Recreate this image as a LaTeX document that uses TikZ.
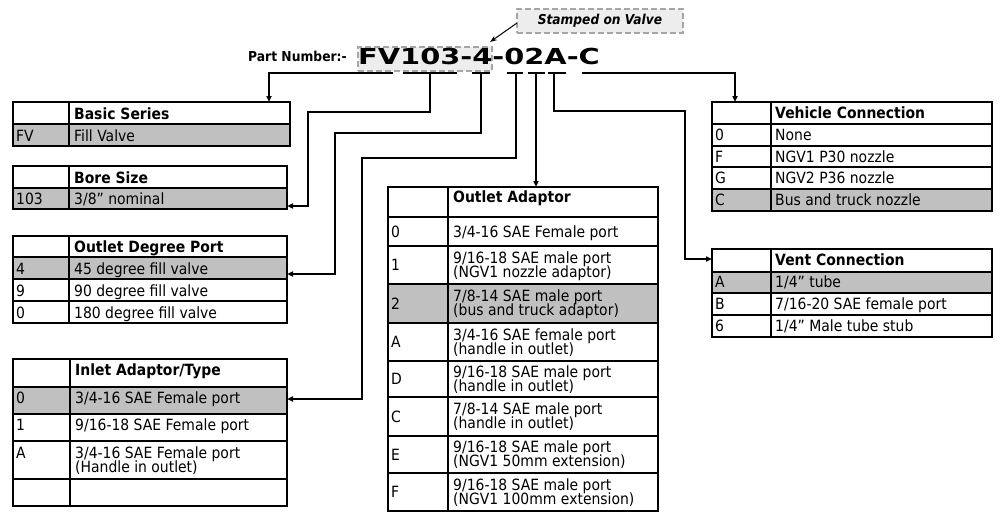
\documentclass[tikz,border=0pt]{standalone}
\usepackage{fontspec}
\setmainfont{DejaVu Sans}
\newfontfamily\tfont[FakeStretch=0.9]{DejaVu Sans}
\newfontfamily\pnfont[FakeStretch=1.31]{DejaVu Sans}
\usetikzlibrary{arrows.meta}
\definecolor{shadegray}{HTML}{C0C0C0}
\definecolor{stampfill}{HTML}{EDEDED}
\definecolor{dashgray}{HTML}{A6A6A6}
\newcommand\tgrid[6]{%
  \draw[tbl] (#1,#4) rectangle (#3,#5);
  \draw[tbl] (#2,#4) -- (#2,#5);
  \foreach \yy in {#6} {\draw[tbl] (#1,\yy) -- (#3,\yy);}
}
\begin{document}
\begin{tikzpicture}[
  x=1pt, y=-1pt,
  tbl/.style={line width=1.1pt, draw=black},
  cell/.style={anchor=base west, inner sep=0pt, font=\tfont\fontsize{15.5}{15}\selectfont},
  hcell/.style={anchor=base west, inner sep=0pt, font=\tfont\bfseries\fontsize{15.5}{15}\selectfont},
  conn/.style={line width=2pt, draw=black},
  arr/.style={conn, -{Triangle[length=6pt,width=5pt]}},
  dashbox/.style={fill=stampfill, draw=dashgray, line width=1.5pt, dash pattern=on 6pt off 3pt},
]
\useasboundingbox (0,0) rectangle (1007,527);

% ---------- stamped box and part number ----------
\node[dashbox, minimum width=166pt, minimum height=24pt, inner sep=0pt] (stamp) at (600,21) {};
\node[inner sep=0pt, font=\tfont\bfseries\itshape\fontsize{13.6}{14}\selectfont] (stamptext) at (600,21) {Stamped on Valve};
\node[dashbox, minimum width=134pt, minimum height=24pt, inner sep=0pt] (pnbox) at (425,59) {};
\node[anchor=base west, inner sep=0pt, font=\tfont\bfseries\fontsize{13.7}{14}\selectfont] (pnlabel) at (248,62) {Part Number:-};
\node[anchor=base west, inner sep=0pt, font=\pnfont\bfseries\fontsize{22}{22}\selectfont] (pn) at (358,65) {FV103-4-02A-C};
\coordinate (stampL) at (517,23);
\coordinate (stampT) at (490,42);
\draw[line width=1pt, -{Stealth[length=7pt,width=5pt]}] (stampL) -- (stampT);

% ---------- Basic Series ----------
\fill[shadegray] (13,124) rectangle (290,146);
\tgrid{13}{69}{290}{102}{146}{124}
\node[hcell] (bsh) at (74,119) {Basic Series};
\node[cell] (bs1c) at (16,141) {FV};
\node[cell] (bs1t) at (74,141) {Fill Valve};

% ---------- Bore Size ----------
\fill[shadegray] (13,188) rectangle (287,209);
\tgrid{13}{69}{287}{166}{209}{188}
\node[hcell] (bzh) at (74,183) {Bore Size};
\node[cell] (bz1c) at (16,204) {103};
\node[cell] (bz1t) at (74,204) {3/8” nominal};

% ---------- Outlet Degree Port ----------
\fill[shadegray] (13,257) rectangle (287,279);
\tgrid{13}{69}{287}{236}{323}{257,279,301}
\node[hcell] (odh) at (74,252) {Outlet Degree Port};
\node[cell] (od1c) at (16,274) {4};
\node[cell] (od1t) at (74,274) {45 degree fill valve};
\node[cell] (od2c) at (16,296) {9};
\node[cell] (od2t) at (74,296) {90 degree fill valve};
\node[cell] (od3c) at (16,318) {0};
\node[cell] (od3t) at (74,318) {180 degree fill valve};

% ---------- Inlet Adaptor/Type ----------
\fill[shadegray] (13,387) rectangle (287,414);
\tgrid{13}{70}{287}{359}{506}{387,414,441,479}
\node[hcell] (inh) at (75,375) {Inlet Adaptor/Type};
\node[cell] (in1c) at (16,403) {0};
\node[cell] (in1t) at (75,403) {3/4-16 SAE Female port};
\node[cell] (in2c) at (16,430) {1};
\node[cell] (in2t) at (75,430) {9/16-18 SAE Female port};
\node[cell] (in3c) at (16,458) {A};
\node[cell] (in3t) at (75,458) {3/4-16 SAE Female port};
\node[cell] (in3u) at (75,472) {(Handle in outlet)};

% ---------- Outlet Adaptor ----------
\fill[shadegray] (388,284) rectangle (658,323);
\tgrid{388}{448}{658}{187}{511}{217,246,284,323,361,397,436,473}
\node[hcell] (oah) at (453,202) {Outlet Adaptor};
\node[cell] (oa0c) at (391,237) {0};
\node[cell] (oa0t) at (453,237) {3/4-16 SAE Female port};
\node[cell] (oa1c) at (391,270.5) {1};
\node[cell] (oa1t) at (453,263) {9/16-18 SAE male port};
\node[cell] (oa1u) at (453,277) {(NGV1 nozzle adaptor)};
\node[cell] (oa2c) at (391,309) {2};
\node[cell] (oa2t) at (453,301.5) {7/8-14 SAE male port};
\node[cell] (oa2u) at (453,315.5) {(bus and truck adaptor)};
\node[cell] (oa3c) at (391,347.5) {A};
\node[cell] (oa3t) at (453,340) {3/4-16 SAE female port};
\node[cell] (oa3u) at (453,354) {(handle in outlet)};
\node[cell] (oa4c) at (391,384.5) {D};
\node[cell] (oa4t) at (453,377) {9/16-18 SAE male port};
\node[cell] (oa4u) at (453,391) {(handle in outlet)};
\node[cell] (oa5c) at (391,422) {C};
\node[cell] (oa5t) at (453,414.5) {7/8-14 SAE male port};
\node[cell] (oa5u) at (453,428.5) {(handle in outlet)};
\node[cell] (oa6c) at (391,460) {E};
\node[cell] (oa6t) at (453,452.5) {9/16-18 SAE male port};
\node[cell] (oa6u) at (453,466.5) {(NGV1 50mm extension)};
\node[cell] (oa7c) at (391,497.5) {F};
\node[cell] (oa7t) at (453,490) {9/16-18 SAE male port};
\node[cell] (oa7u) at (453,504) {(NGV1 100mm extension)};

% ---------- Vehicle Connection ----------
\fill[shadegray] (712,189) rectangle (992,211);
\tgrid{712}{771}{992}{102}{211}{124,146,167,189}
\node[hcell] (vch) at (775,118.5) {Vehicle Connection};
\node[cell] (vc1c) at (715,140.5) {0};
\node[cell] (vc1t) at (775,140.5) {None};
\node[cell] (vc2c) at (715,162) {F};
\node[cell] (vc2t) at (775,162) {NGV1 P30 nozzle};
\node[cell] (vc3c) at (715,183.5) {G};
\node[cell] (vc3t) at (775,183.5) {NGV2 P36 nozzle};
\node[cell] (vc4c) at (715,205.5) {C};
\node[cell] (vc4t) at (775,205.5) {Bus and truck nozzle};

% ---------- Vent Connection ----------
\fill[shadegray] (712,272) rectangle (992,293);
\tgrid{712}{771}{992}{249}{337}{272,293,315}
\node[hcell] (vnh) at (775,265.5) {Vent Connection};
\node[cell] (vn1c) at (715,287.5) {A};
\node[cell] (vn1t) at (775,287.5) {1/4” tube};
\node[cell] (vn2c) at (715,309.5) {B};
\node[cell] (vn2t) at (775,309.5) {7/16-20 SAE female port};
\node[cell] (vn3c) at (715,331.5) {6};
\node[cell] (vn3t) at (775,331.5) {1/4” Male tube stub};

% ---------- connectors ----------
\coordinate (uFV) at (393,73);   \coordinate (bsIn) at (269,102);
\coordinate (u103a) at (403,73); \coordinate (u103b) at (457,73);
\coordinate (u103) at (430,73);  \coordinate (c103) at (308,112); \coordinate (bzIn) at (287,206);
\coordinate (u4a) at (472,73);   \coordinate (u4b) at (490,73);
\coordinate (u4) at (481,73);    \coordinate (c4) at (335,133);   \coordinate (odIn) at (287,274);
\coordinate (u0a) at (507,73);   \coordinate (u0b) at (523,73);
\coordinate (u0) at (516,73);    \coordinate (c0) at (362,158);   \coordinate (inIn) at (287,399);
\coordinate (u2a) at (528,73);   \coordinate (u2b) at (545,73);
\coordinate (u2) at (536,73);    \coordinate (oaIn) at (536,187);
\coordinate (uAa) at (548,73);   \coordinate (uAb) at (566,73);
\coordinate (uA) at (554,73);    \coordinate (cA) at (685,111);   \coordinate (vnIn) at (712,259);
\coordinate (uC) at (582,73);    \coordinate (vcIn) at (735,102);

\draw[conn] (u103a) -- (u103b);
\draw[conn] (u4a) -- (u4b);
\draw[conn] (u0a) -- (u0b);
\draw[conn] (u2a) -- (u2b);
\draw[conn] (uAa) -- (uAb);

\draw[arr] (uFV) -| (bsIn);
\draw[arr] (u103) |- (c103) |- (bzIn);
\draw[arr] (u4) |- (c4) |- (odIn);
\draw[arr] (u0) |- (c0) |- (inIn);
\draw[arr] (u2) -- (oaIn);
\draw[arr] (uA) |- (cA) |- (vnIn);
\draw[arr] (uC) -| (vcIn);
\end{tikzpicture}
\end{document}
